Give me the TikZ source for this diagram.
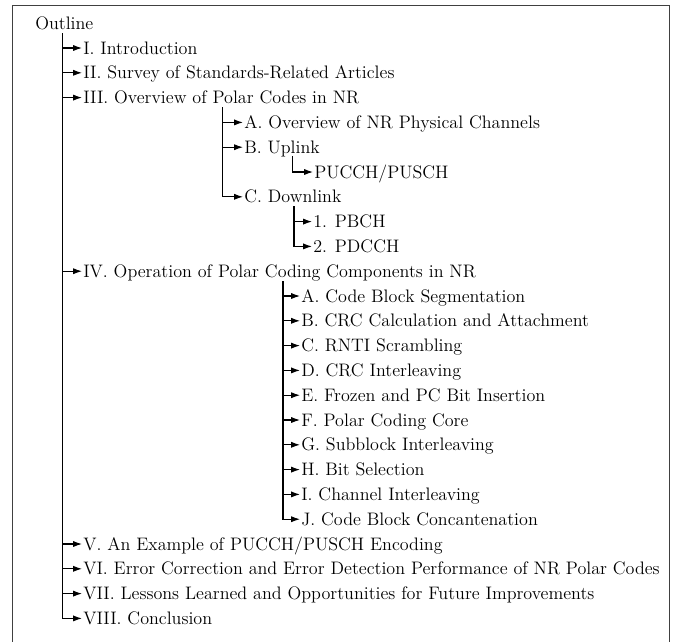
\documentclass[tikz,border=0pt]{standalone}
\usetikzlibrary{arrows.meta}
\begin{document}
\begin{tikzpicture}[x=0.625pt,y=-0.625pt,
  item/.style={anchor=west,inner xsep=0.6pt,inner ysep=0pt,text height=7.7pt,text depth=0pt,font=\fontsize{11.3}{13.5}\selectfont},
  edge/.style={line width=0.65pt,-{Latex[length=5.5pt,width=3.8pt]}},
  frame/.style={line width=0.6pt,draw=black!75}]
\useasboundingbox (0,0) rectangle (677,641);
\draw[frame] (12.5,650) -- (12.5,5) -- (669.5,5) -- (669.5,650);

\node[item] (root) at (34,23) {Outline};
% level 1
\node[item] (s1) at (82,48) {I. Introduction};
\node[item] (s2) at (82,72.8) {II. Survey of Standards-Related Articles};
\node[item] (s3) at (82,97.6) {III. Overview of Polar Codes in NR};
\node[item] (s3a) at (243,122.4) {A. Overview of NR Physical Channels};
\node[item] (s3b) at (243,147.2) {B. Uplink};
\node[item] (s3b1) at (313,172) {PUCCH/PUSCH};
\node[item] (s3c) at (243,196.8) {C. Downlink};
\node[item] (s3c1) at (312,221.6) {1. PBCH};
\node[item] (s3c2) at (312,246.4) {2. PDCCH};
\node[item] (s4) at (82,271.2) {IV. Operation of Polar Coding Components in NR};
\node[item] (s4a) at (300,296) {A. Code Block Segmentation};
\node[item] (s4b) at (300,320.8) {B. CRC Calculation and Attachment};
\node[item] (s4c) at (300,345.6) {C. RNTI Scrambling};
\node[item] (s4d) at (300,370.4) {D. CRC Interleaving};
\node[item] (s4e) at (300,395.2) {E. Frozen and PC Bit Insertion};
\node[item] (s4f) at (300,420) {F. Polar Coding Core};
\node[item] (s4g) at (300,444.8) {G. Subblock Interleaving};
\node[item] (s4h) at (300,469.6) {H. Bit Selection};
\node[item] (s4i) at (300,494.4) {I. Channel Interleaving};
\node[item] (s4j) at (300,519.2) {J. Code Block Concantenation};
\node[item] (s5) at (82,544) {V. An Example of PUCCH/PUSCH Encoding};
\node[item] (s6) at (82,568.8) {VI. Error Correction and Error Detection Performance of NR Polar Codes};
\node[item] (s7) at (82,593.6) {VII. Lessons Learned and Opportunities for Future Improvements};
\node[item] (s8) at (82,618.4) {VIII. Conclusion};

% trunk tops
\coordinate (t0) at (62.7,33);
\coordinate (t3) at (222.7,107);
\coordinate (t3b) at (292.7,156);
\coordinate (t3c) at (294,206);
\coordinate (t4) at (283,281);

\foreach \n in {s1,s2,s3,s4,s5,s6,s7,s8} \draw[edge] (t0) |- (\n.west);
\foreach \n in {s3a,s3b,s3c} \draw[edge] (t3) |- (\n.west);
\draw[edge] (t3b) |- (s3b1.west);
\foreach \n in {s3c1,s3c2} \draw[edge] (t3c) |- (\n.west);
\foreach \n in {s4a,s4b,s4c,s4d,s4e,s4f,s4g,s4h,s4i,s4j} \draw[edge] (t4) |- (\n.west);
\end{tikzpicture}
\end{document}
